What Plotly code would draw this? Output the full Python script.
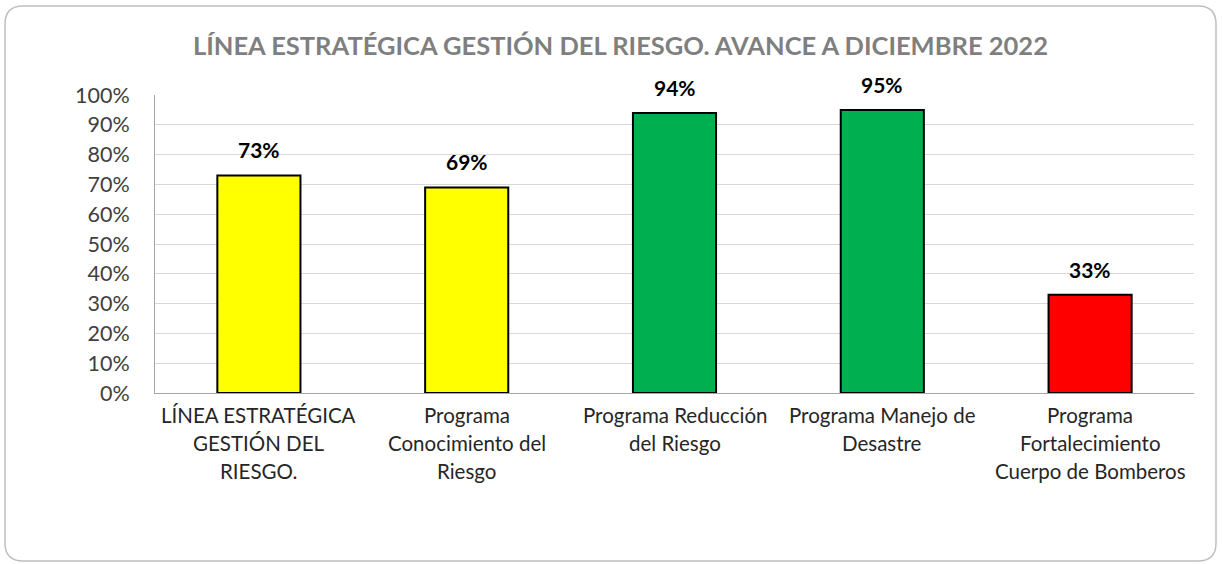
import plotly.graph_objects as go

categories = [
    "LÍNEA ESTRATÉGICA<br>GESTIÓN DEL<br>RIESGO.",
    "Programa<br>Conocimiento del<br>Riesgo",
    "Programa Reducción<br>del Riesgo",
    "Programa Manejo de<br>Desastre",
    "Programa<br>Fortalecimiento<br>Cuerpo de Bomberos",
]
values = [0.73, 0.69, 0.94, 0.95, 0.33]
bar_colors = ["#FFFF00", "#FFFF00", "#00B050", "#00B050", "#FF0000"]
y_ticks = [0, 0.1, 0.2, 0.3, 0.4, 0.5, 0.6, 0.7, 0.8, 0.9, 1.0]
y_tick_labels = ["0%", "10%", "20%", "30%", "40%", "50%", "60%", "70%", "80%", "90%", "100%"]
title_text = "LÍNEA ESTRATÉGICA GESTIÓN DEL RIESGO. AVANCE A DICIEMBRE 2022"

FONT = "Lato, 'Open Sans', sans-serif"

# plot-area geometry in pixels
L, T, W, H = 155, 95, 1039, 298


def px(x):
    return (x - L) / W


def py(y):
    return (T + H - y) / H


fig = go.Figure()
fig.add_trace(go.Bar(
    x=list(range(len(categories))),
    y=values,
    width=0.4,
    marker=dict(color=bar_colors, line=dict(color="#000000", width=2)),
    hoverinfo="skip",
))

annotations = []
# data labels
for i, v in enumerate(values):
    annotations.append(dict(
        x=i, y=v, xref="x", yref="y", text=f"<b>{round(v*100)}%</b>",
        showarrow=False, yanchor="bottom", yshift=11,
        font=dict(family=FONT, size=21, color="#000000"),
    ))
# category labels, one annotation per line
for i, lab in enumerate(categories):
    for j, line in enumerate(lab.split("<br>")):
        annotations.append(dict(
            x=i, y=0, xref="x", yref="y", text=line,
            showarrow=False, yanchor="middle", yshift=-22 - 28 * j,
            font=dict(family=FONT, size=20.5, color="#262626"),
        ))
# title
annotations.append(dict(
    x=px(620), y=py(45), xref="paper", yref="paper", text=f"<b>{title_text}</b>",
    showarrow=False, xanchor="center", yanchor="middle",
    font=dict(family=FONT, size=25.5, color="#7F7F7F"),
))

# rounded frame
x0, x1, y0, y1, r = 5, 1216, 6, 561, 18
path = (
    f"M {px(x0 + r)} {py(y0)} L {px(x1 - r)} {py(y0)} "
    f"Q {px(x1)} {py(y0)} {px(x1)} {py(y0 + r)} "
    f"L {px(x1)} {py(y1 - r)} Q {px(x1)} {py(y1)} {px(x1 - r)} {py(y1)} "
    f"L {px(x0 + r)} {py(y1)} Q {px(x0)} {py(y1)} {px(x0)} {py(y1 - r)} "
    f"L {px(x0)} {py(y0 + r)} Q {px(x0)} {py(y0)} {px(x0 + r)} {py(y0)} Z"
)

fig.update_layout(
    width=1222, height=564,
    margin=dict(l=L, r=1222 - L - W, t=T, b=564 - T - H),
    paper_bgcolor="#FFFFFF", plot_bgcolor="#FFFFFF",
    showlegend=False,
    annotations=annotations,
    shapes=[dict(type="path", path=path, xref="paper", yref="paper",
                 line=dict(color="#BFBFBF", width=1.5), layer="below")],
    xaxis=dict(range=[-0.5, len(categories) - 0.5], showticklabels=False, ticks="",
               showgrid=False, zeroline=False, showline=True, linecolor="#A6A6A6", linewidth=1),
    yaxis=dict(range=[0, 1], tickvals=y_ticks, ticktext=y_tick_labels, ticks="",
               showgrid=True, gridcolor="#D9D9D9", gridwidth=1, zeroline=False,
               showline=True, linecolor="#A6A6A6", linewidth=1, ticklabelstandoff=20,
               tickfont=dict(family=FONT, size=21.5, color="#404040")),
)

fig.write_html("out.html", config={"displayModeBar": False},
               post_script="document.body.style.margin='0';document.body.style.overflow='hidden';")
